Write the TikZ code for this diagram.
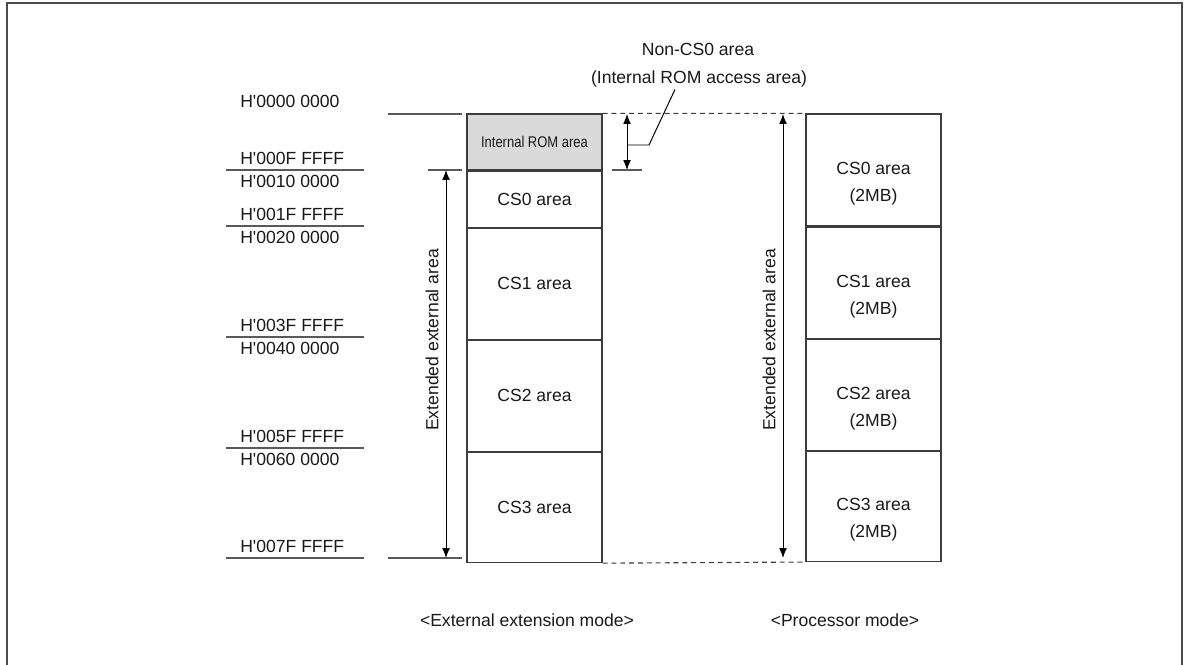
\documentclass[tikz,border=0pt]{standalone}
\usepackage{fontspec}
\setmainfont{Liberation Sans}
\usetikzlibrary{positioning,arrows.meta}
\definecolor{mapline}{RGB}{60,60,60}
\definecolor{mapgrey}{RGB}{218,218,218}
\definecolor{maptext}{RGB}{25,25,25}
\newcommand\hq{\textquotesingle}
\tikzset{
  areabox/.style={draw=mapline,line width=0.8pt,minimum width=3.375cm,inner sep=0pt,
    font=\fontsize{12.5}{15}\selectfont,text=maptext},
  maplabel/.style={inner sep=0pt,font=\fontsize{12.5}{15}\selectfont,text=maptext},
  addr/.style={maplabel,anchor=west},
  addrline/.style={draw=mapline!85,line width=0.9pt},
  guide/.style={draw=mapline,line width=0.8pt,dash pattern=on 3.5pt off 2.8pt},
  dimarrow/.style={{Latex[length=7pt,width=5.5pt]}-{Latex[length=7pt,width=5.5pt]},
    draw=black,line width=0.7pt}
}
\begin{document}
\begin{tikzpicture}[x=0.025cm,y=-0.025cm]
\useasboundingbox (0,0) rectangle (1186,665);
% frame
\draw[black!70,line width=1pt] (7,668) -- (7,3) -- (1182,3) -- (1182,668);
% external extension mode
\node[areabox,minimum height=1.4cm,fill=mapgrey] (rom) at (534.5,142)
  {\fontsize{11}{13}\selectfont\scalebox{0.84}[1]{Internal ROM area}};
\node[areabox,minimum height=1.4cm,below=0pt of rom] (cs0) {CS0 area};
\node[areabox,minimum height=2.775cm,below=0pt of cs0] (cs1) {CS1 area};
\node[areabox,minimum height=2.775cm,below=0pt of cs1] (cs2) {CS2 area};
\node[areabox,minimum height=2.75cm,below=0pt of cs2] (cs3) {CS3 area};
% processor mode
\node[areabox,minimum height=2.8cm] (pcs0) at (873.5,170) {};
\node[areabox,minimum height=2.775cm,below=0pt of pcs0] (pcs1) {};
\node[areabox,minimum height=2.775cm,below=0pt of pcs1] (pcs2) {};
\node[areabox,minimum height=2.75cm,below=0pt of pcs2] (pcs3) {};
\node[maplabel,align=center,font=\fontsize{12.5}{19.2}\selectfont] (pcs0txt) at ([yshift=-0.34cm]pcs0.center) {CS0 area\\(2MB)};
\node[maplabel,align=center,font=\fontsize{12.5}{19.2}\selectfont] (pcs1txt) at ([yshift=-0.34cm]pcs1.center) {CS1 area\\(2MB)};
\node[maplabel,align=center,font=\fontsize{12.5}{19.2}\selectfont] (pcs2txt) at ([yshift=-0.34cm]pcs2.center) {CS2 area\\(2MB)};
\node[maplabel,align=center,font=\fontsize{12.5}{19.2}\selectfont] (pcs3txt) at ([yshift=-0.34cm]pcs3.center) {CS3 area\\(2MB)};
% addresses
\node[addr] (a0) at (240,101) {H\hq0000 0000};
\node[addr] (a1) at (240,158) {H\hq000F FFFF};
\node[addr] (a2) at (240,181) {H\hq0010 0000};
\node[addr] (a3) at (240,214) {H\hq001F FFFF};
\node[addr] (a4) at (240,237) {H\hq0020 0000};
\node[addr] (a5) at (240,325) {H\hq003F FFFF};
\node[addr] (a6) at (240,348) {H\hq0040 0000};
\node[addr] (a7) at (240,436) {H\hq005F FFFF};
\node[addr] (a8) at (240,459) {H\hq0060 0000};
\node[addr] (a9) at (240,546) {H\hq007F FFFF};
\draw[addrline] (226,170) -- (364,170);
\draw[addrline] (226,226) -- (364,226);
\draw[addrline] (226,337) -- (364,337);
\draw[addrline] (226,448) -- (364,448);
\draw[addrline] (226,558) -- (364,558);
\draw[addrline] (388,114) -- (462,114);
\draw[addrline] (428,170) -- (462,170);
\draw[addrline] (388,558) -- (462,558);
\draw[addrline] (612,170) -- (642,170);
% guides between the two maps
\draw[guide] (rom.north east) -- (pcs0.north west);
\draw[guide] (cs3.south east) -- (pcs3.south west);
% extended external areas
\coordinate (extltop) at (446,170);
\coordinate (extlbot) at (446,558);
\coordinate (extrtop) at (783,114);
\coordinate (extrbot) at (783,558);
\draw[dimarrow] (extltop) -- (extlbot);
\draw[dimarrow] (extrtop) -- (extrbot);
\node[maplabel,rotate=90] (extl) at (432,340) {Extended external area};
\node[maplabel,rotate=90] (extr) at (769,340) {Extended external area};
% non-CS0 area
\coordinate (romtop) at (627,114);
\coordinate (rombot) at (627,170);
\draw[dimarrow] (romtop) -- (rombot);
\node[maplabel] (noncs) at (698,49) {Non-CS0 area};
\node[maplabel] (romacc) at (699,79) {(Internal ROM access area)};
\coordinate (leadfoot) at (627,145);
\draw[black,line width=0.7pt] (leadfoot) -- (649,145) -- ([xshift=-0.6cm,yshift=-0.05cm]romacc.south);
% modes
\node[maplabel] (extmode) at (527,620) {<External extension mode>};
\node[maplabel] (procmode) at (845,620) {<Processor mode>};
\end{tikzpicture}
\end{document}
